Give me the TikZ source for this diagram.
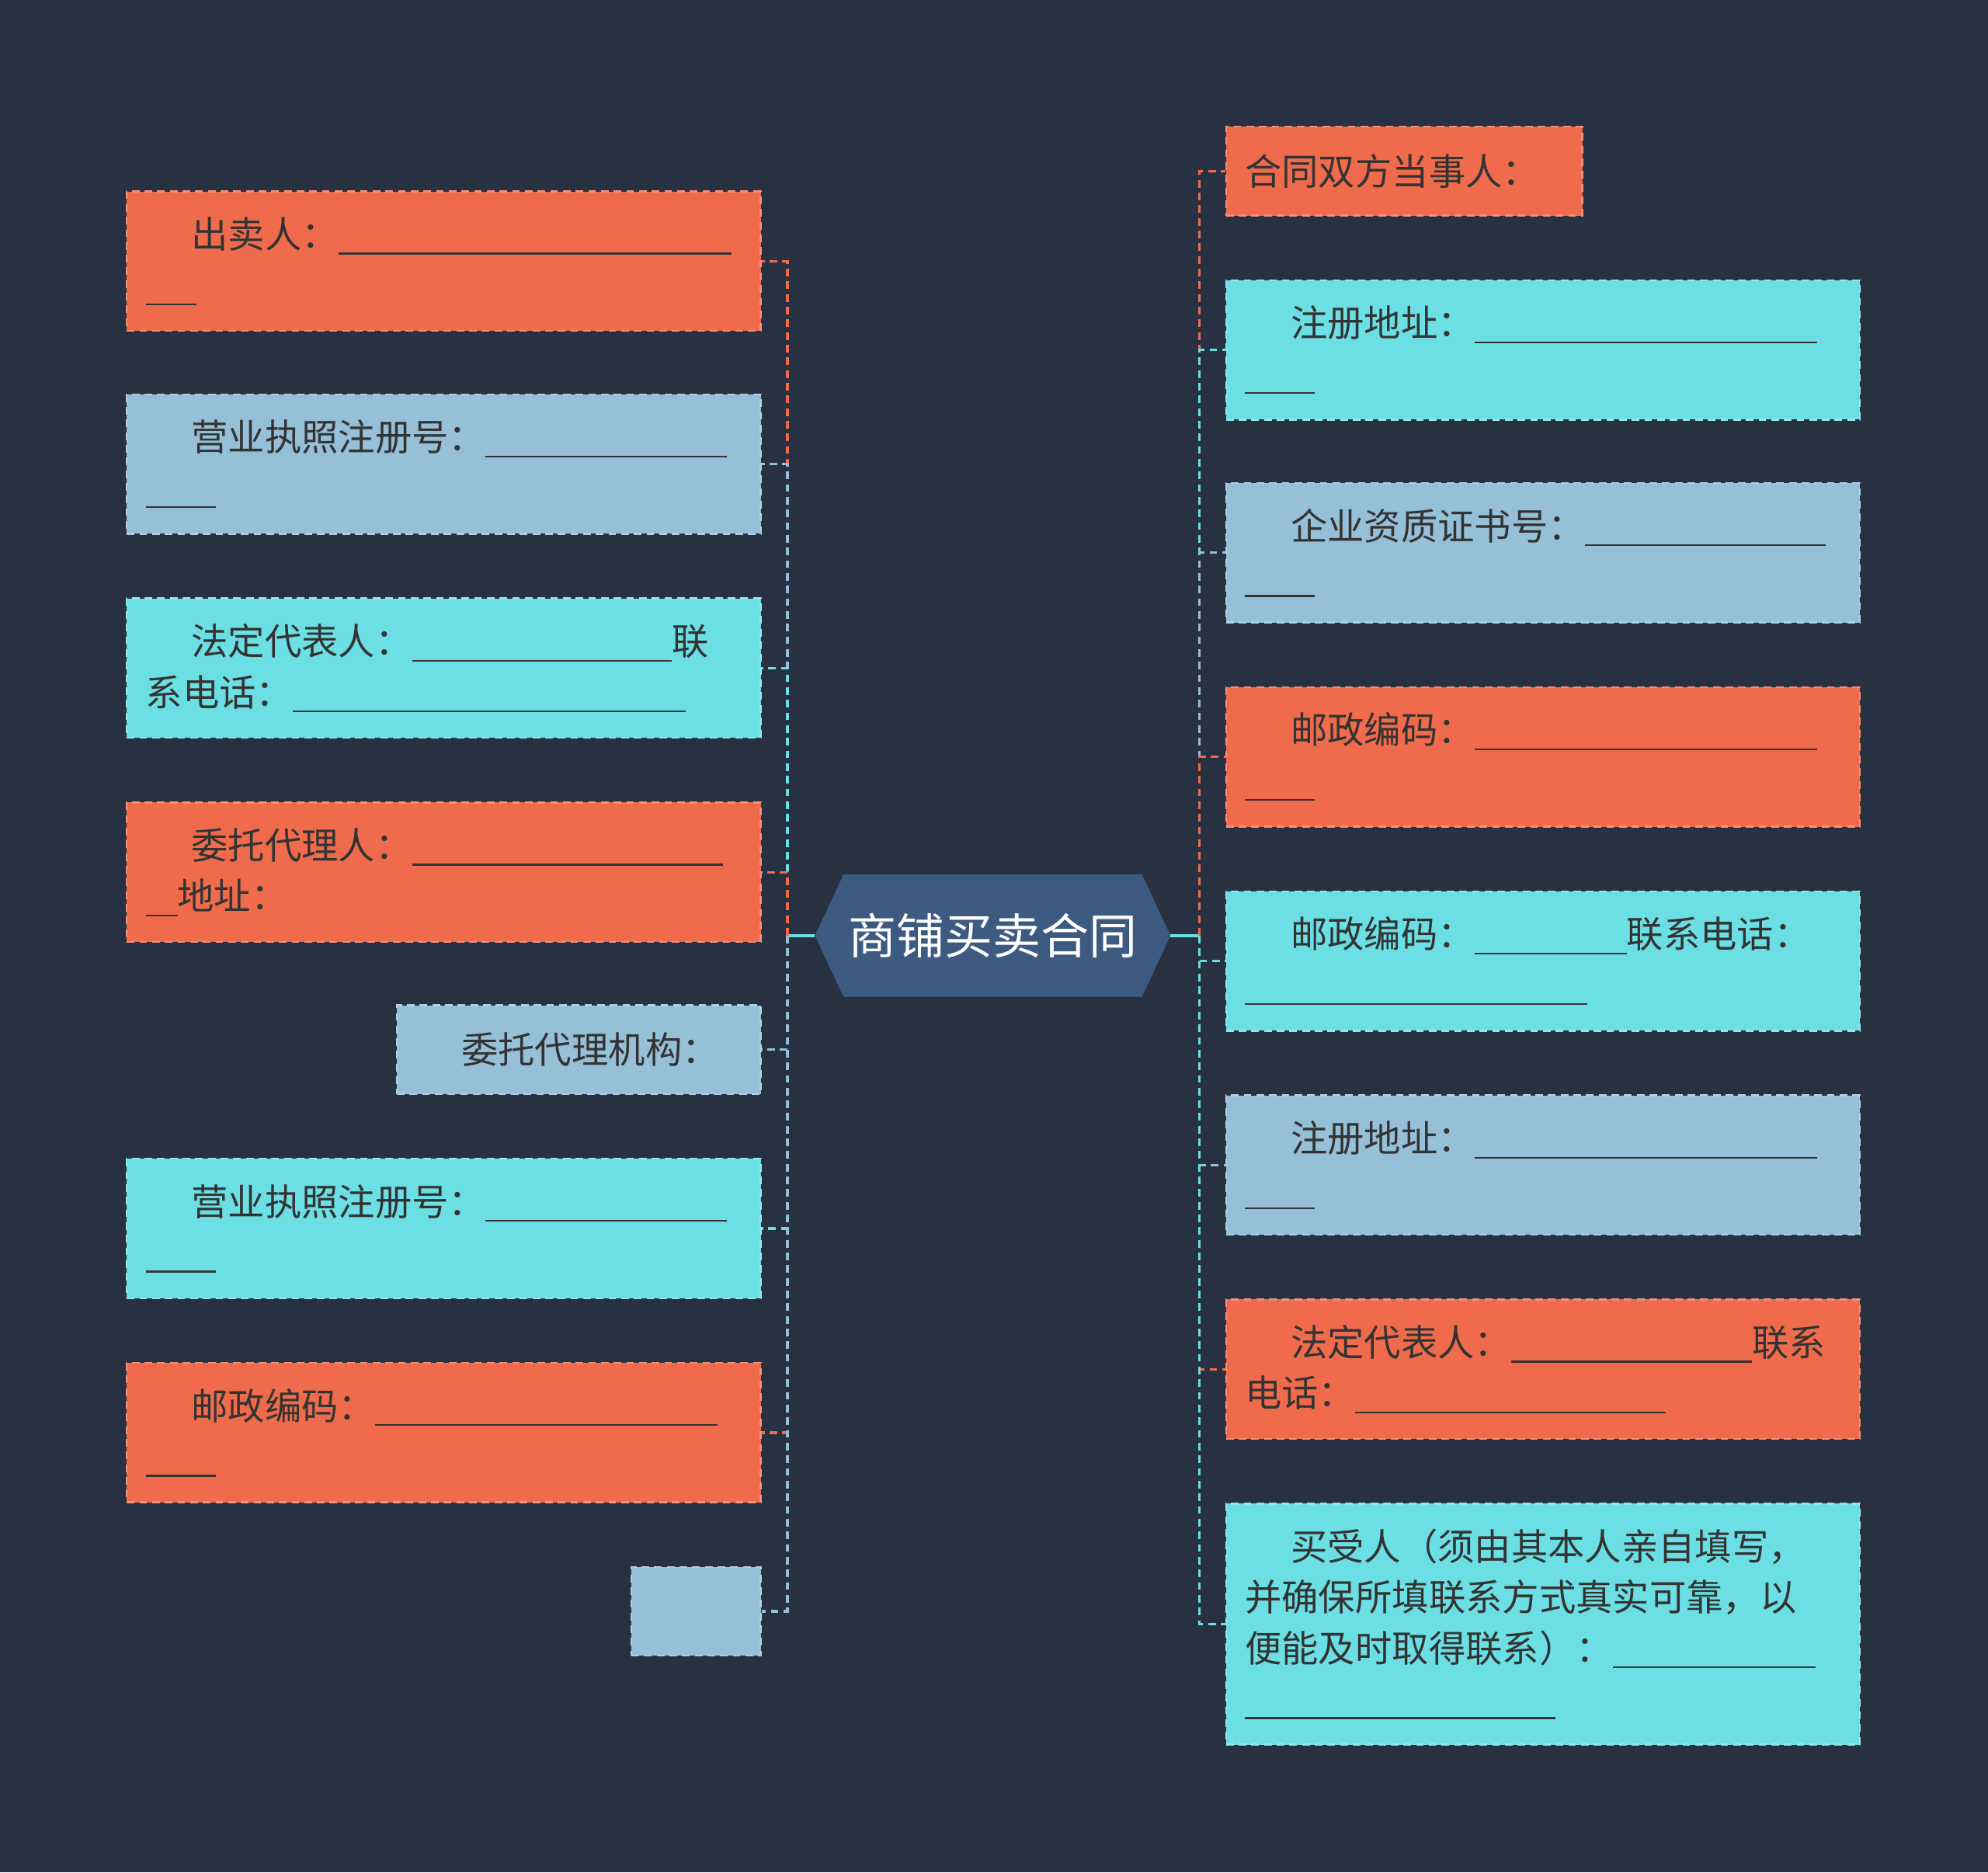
\documentclass[tikz,border=0pt]{standalone}
\usepackage{fontspec}
\setmainfont{Noto Sans CJK SC}
\usetikzlibrary{shapes.symbols}
\definecolor{bg}{HTML}{283142}
\definecolor{cor}{HTML}{EF6B4C}
\definecolor{clb}{HTML}{96BFD8}
\definecolor{ccy}{HTML}{6BDFE4}
\definecolor{chx}{HTML}{3D5A80}
\definecolor{ctx}{HTML}{333333}
\newcommand{\blank}[1]{\rule[-5pt]{#1pt}{1.4pt}}
\newcommand{\ind}{\hspace*{36pt}}
\begin{document}
\begin{tikzpicture}[x=1pt,y=-1pt,
  box/.style={draw=#1!75!white,fill=#1,dash pattern=on 6pt off 4pt,line width=1.5pt,minimum width=500pt,minimum height=110pt,text width=470pt,align=left,inner sep=15pt,text=ctx,font=\fontsize{29}{40}\selectfont},
  lnk/.style={draw=#1,dash pattern=on 6pt off 4pt,line width=2pt}]
\useasboundingbox[fill=bg] (0,0) rectangle (1568,1477);
\node[signal,signal to=east and west,signal pointer angle=130,fill=chx,draw=chx,minimum width=280pt,minimum height=96pt,text=white,font=\fontsize{38}{44}\selectfont] (hex) at (783,738) {商铺买卖合同};
\coordinate (lt) at (621,738);
\coordinate (rt) at (946,738);
% left
\node[box=cor] (l1) at (350,206) {\ind 出卖人：\blank{310}\\\blank{40}};
\node[box=clb] (l2) at (350,366) {\ind 营业执照注册号：\blank{190}\\\blank{55}};
\node[box=ccy] (l3) at (350,527) {\ind 法定代表人：\blank{205}联\\系电话：\blank{310}};
\node[box=cor] (l4) at (350,688) {\ind 委托代理人：\blank{245}\\\blank{25}地址：};
\node[box=clb,minimum width=287pt,minimum height=70pt,text width=257pt] (l5) at (456.5,828) {\ind 委托代理机构：};
\node[box=ccy] (l6) at (350,969) {\ind 营业执照注册号：\blank{190}\\\blank{55}};
\node[box=cor] (l7) at (350,1130) {\ind 邮政编码：\blank{270}\\\blank{55}};
\node[box=clb,minimum width=102pt,minimum height=70pt,text width=72pt] (l8) at (549,1271) {};
% right
\node[box=cor,minimum width=281pt,minimum height=70pt,text width=251pt] (r1) at (1107.5,135) {合同双方当事人：};
\node[box=ccy] (r2) at (1217,276) {\ind 注册地址：\blank{270}\\\blank{55}};
\node[box=clb] (r3) at (1217,436) {\ind 企业资质证书号：\blank{190}\\\blank{55}};
\node[box=cor] (r4) at (1217,597) {\ind 邮政编码：\blank{270}\\\blank{55}};
\node[box=ccy] (r5) at (1217,758) {\ind 邮政编码：\blank{120}联系电话：\\\blank{270}};
\node[box=clb] (r6) at (1217,919) {\ind 注册地址：\blank{270}\\\blank{55}};
\node[box=cor] (r7) at (1217,1080) {\ind 法定代表人：\blank{190}联系\\电话：\blank{245}};
\node[box=ccy,minimum height=190pt] (r8) at (1217,1281) {\ind 买受人（须由其本人亲自填写，\\并确保所填联系方式真实可靠，以\\便能及时取得联系）：\blank{160}\\\blank{245}};
% links
\draw[lnk=ccy,solid] (hex.west) -- (lt);
\draw[lnk=ccy,solid] (hex.east) -- (rt);
\foreach \n/\c in {l1/cor,l2/clb,l3/ccy,l4/cor,l5/clb,l6/ccy,l7/cor,l8/clb}
  \draw[lnk=\c] (lt) |- (\n.east);
\foreach \n/\c in {r1/cor,r2/ccy,r3/clb,r4/cor,r5/ccy,r6/clb,r7/cor,r8/ccy}
  \draw[lnk=\c] (rt) |- (\n.west);
\end{tikzpicture}
\end{document}
